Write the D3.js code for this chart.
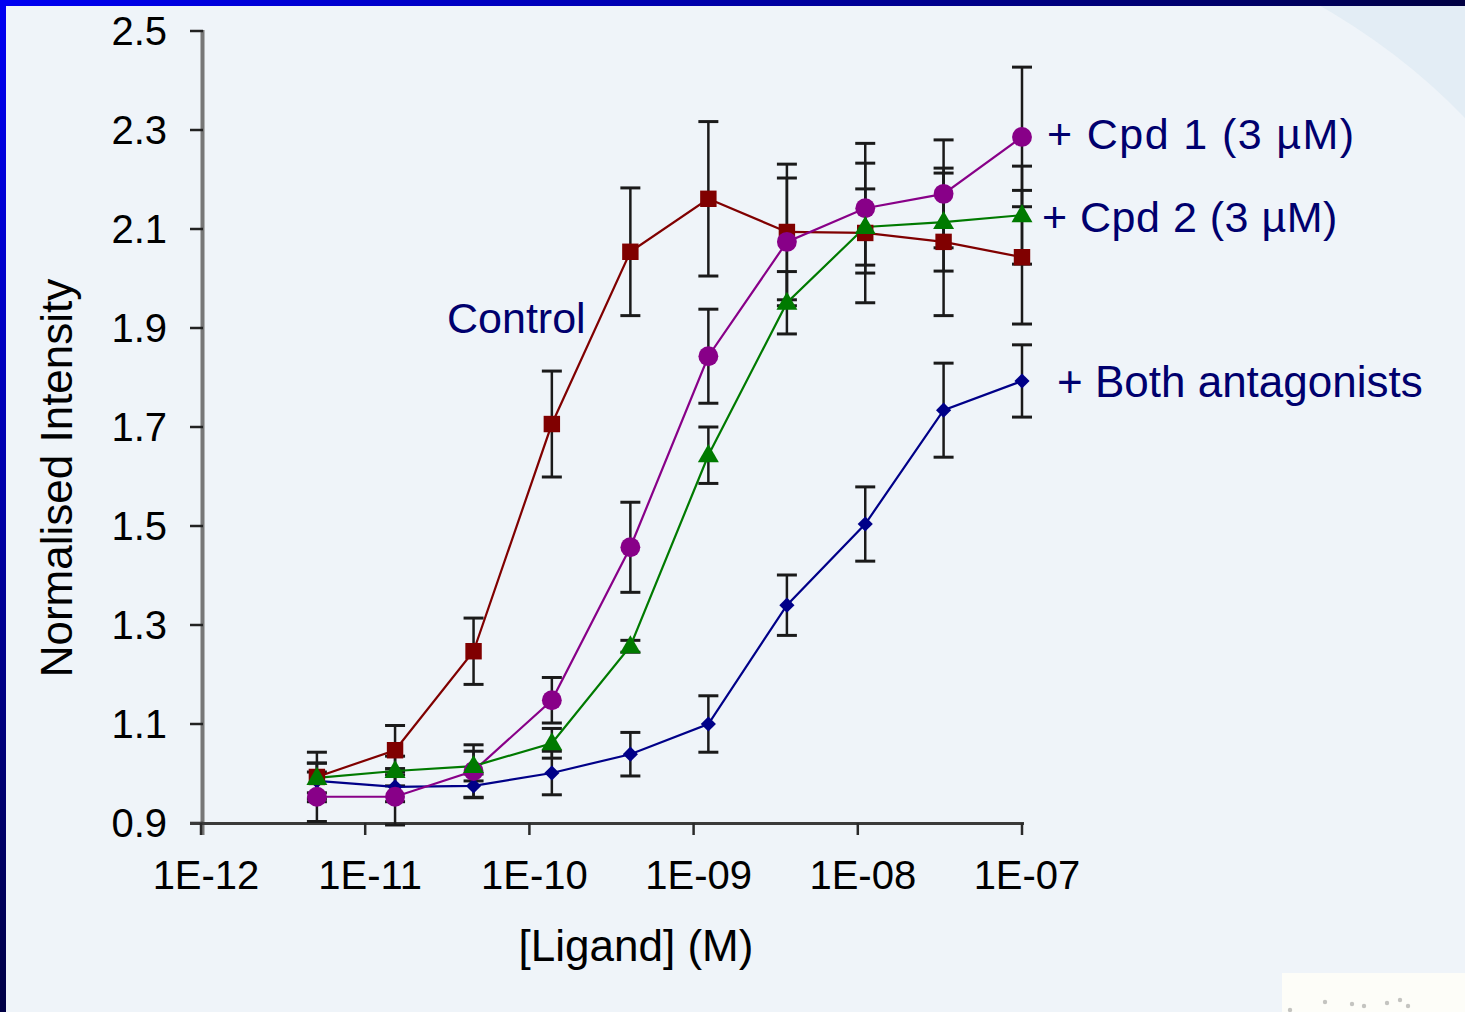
<!DOCTYPE html>
<html>
<head>
<meta charset="utf-8">
<script src="https://cdn.jsdelivr.net/npm/d3@7"></script>
<style>
  html, body { margin: 0; padding: 0; background: #eff4f9; }
  svg { display: block; }
  text { font-family: "Liberation Sans", Arial, sans-serif; }
</style>
</head>
<body>
<svg id="chart" width="1465" height="1012"></svg>
<script>
// Ligand concentrations (M), threefold dilution series
const doses = [5.08e-12, 1.52e-11, 4.57e-11, 1.37e-10, 4.12e-10, 1.23e-9, 3.70e-9, 1.11e-8, 3.33e-8, 1.0e-7];

// Normalised intensity (mean) and error for each condition
const controlMean = [0.993, 1.047, 1.247, 1.706, 2.054, 2.161, 2.094, 2.092, 2.074, 2.043];
const controlErr  = [0.050, 0.050, 0.067, 0.107, 0.129, 0.156, 0.137, 0.141, 0.149, 0.135];

const cpd1Mean = [0.953, 0.953, 1.005, 1.148, 1.457, 1.843, 2.074, 2.142, 2.171, 2.286];
const cpd1Err  = [0.050, 0.057, 0.053, 0.046, 0.091, 0.095, 0.129, 0.131, 0.109, 0.141];

const cpd2Mean = [0.991, 1.005, 1.015, 1.061, 1.257, 1.643, 1.951, 2.104, 2.114, 2.128];
const cpd2Err  = [0.030, 0.030, 0.030, 0.030, 0.012, 0.057, 0.063, 0.077, 0.099, 0.099];

const bothMean = [0.985, 0.973, 0.975, 1.001, 1.039, 1.100, 1.340, 1.504, 1.734, 1.793];
const bothErr  = [0.036, 0.030, 0.024, 0.044, 0.044, 0.057, 0.061, 0.075, 0.095, 0.073];

// Axis ticks
const xTicks = [1e-12, 1e-11, 1e-10, 1e-9, 1e-8, 1e-7];
const xTickLabels = ["1E-12", "1E-11", "1E-10", "1E-09", "1E-08", "1E-07"];
const yTicks = [0.9, 1.1, 1.3, 1.5, 1.7, 1.9, 2.1, 2.3, 2.5];

// Series labels placed beside the curves
const seriesLabels = ["Control", "+  Cpd 1 (3 \u00b5M)", "+ Cpd 2 (3 \u00b5M)", "+ Both antagonists"];

const svg = d3.select("#chart");
const W = 1465, H = 1012;

// ---- slide background and frame ----
const defs = svg.append("defs");
const gTop = defs.append("linearGradient").attr("id", "frameTop").attr("x1", 0).attr("x2", 1).attr("y1", 0).attr("y2", 0);
gTop.append("stop").attr("offset", "0%").attr("stop-color", "#0000f2");
gTop.append("stop").attr("offset", "45%").attr("stop-color", "#0000b0");
gTop.append("stop").attr("offset", "85%").attr("stop-color", "#000068");
gTop.append("stop").attr("offset", "100%").attr("stop-color", "#000042");
const gLeft = defs.append("linearGradient").attr("id", "frameLeft").attr("x1", 0).attr("x2", 0).attr("y1", 0).attr("y2", 1);
gLeft.append("stop").attr("offset", "0%").attr("stop-color", "#0000f2");
gLeft.append("stop").attr("offset", "50%").attr("stop-color", "#0000a8");
gLeft.append("stop").attr("offset", "100%").attr("stop-color", "#000045");

svg.append("rect").attr("width", W).attr("height", H).attr("fill", "#eff4f9");
svg.append("path")
  .attr("d", "M1310,0 Q1400,50 1465,118 L1465,0 Z")
  .attr("fill", "#e3edf5");
svg.append("rect").attr("x", 0).attr("y", 0).attr("width", W).attr("height", 6).attr("fill", "url(#frameTop)");
svg.append("rect").attr("x", 0).attr("y", 0).attr("width", 6).attr("height", H).attr("fill", "url(#frameLeft)");

// corner picture fragment
const frag = svg.append("g");
frag.append("rect").attr("x", 1282).attr("y", 973).attr("width", 183).attr("height", 39).attr("fill", "#fdfdf8");
[[1325, 1002], [1352, 1004], [1364, 1006], [1387, 1003], [1400, 1000], [1408, 1006], [1290, 1010]].forEach(p => {
  frag.append("circle").attr("cx", p[0]).attr("cy", p[1]).attr("r", 2.2).attr("fill", "#c4c4c0");
});

// ---- scales ----
const x = d3.scaleLog().domain([1e-12, 1e-7]).range([201, 1022]);
const y = d3.scaleLinear().domain([0.9, 2.5]).range([823, 31]);

// ---- axes ----
const yAxis = svg.append("g");
yAxis.append("line").attr("x1", 202.5).attr("x2", 202.5).attr("y1", 30).attr("y2", 835)
  .attr("stroke", "#777").attr("stroke-width", 4);
yAxis.selectAll("line.tick").data(yTicks).join("line").attr("class", "tick")
  .attr("x1", 190).attr("x2", 203).attr("y1", d => y(d)).attr("y2", d => y(d))
  .attr("stroke", "#222").attr("stroke-width", 2.5);
yAxis.selectAll("text").data(yTicks).join("text")
  .attr("x", 167).attr("y", d => y(d) + 14)
  .attr("text-anchor", "end").attr("font-size", 40).attr("fill", "#000")
  .text(d => d.toFixed(1));

const xAxis = svg.append("g");
xAxis.append("line").attr("x1", 190).attr("x2", 1024).attr("y1", 823.5).attr("y2", 823.5)
  .attr("stroke", "#3a3a3a").attr("stroke-width", 3);
xAxis.selectAll("line.tick").data(xTicks).join("line").attr("class", "tick")
  .attr("x1", d => x(d)).attr("x2", d => x(d)).attr("y1", 823).attr("y2", 835)
  .attr("stroke", "#2a2a2a").attr("stroke-width", 2.5);
xAxis.selectAll("text").data(xTicks).join("text")
  .attr("x", d => x(d) + 5).attr("y", 889)
  .attr("text-anchor", "middle").attr("font-size", 40).attr("fill", "#000")
  .text((d, i) => xTickLabels[i]);

svg.append("text").attr("x", 636).attr("y", 961).attr("text-anchor", "middle")
  .attr("font-size", 44).attr("fill", "#000").text("[Ligand] (M)");
svg.append("text").attr("transform", "translate(72,478) rotate(-90)").attr("text-anchor", "middle")
  .attr("font-size", 44).attr("fill", "#000").text("Normalised Intensity");

// ---- data ----
// diamonds are squares turned by 45 degrees
const series = [
  { name: "both", mean: bothMean, err: bothErr, color: "#000088", shape: d3.symbolSquare, size: 115, rotate: 45 },
  { name: "control", mean: controlMean, err: controlErr, color: "#800000", shape: d3.symbolSquare, size: 270, rotate: 0 },
  { name: "cpd1", mean: cpd1Mean, err: cpd1Err, color: "#880088", shape: d3.symbolCircle, size: 310, rotate: 0 },
  { name: "cpd2", mean: cpd2Mean, err: cpd2Err, color: "#007a00", shape: d3.symbolTriangle, size: 190, rotate: 0 }
];

const pts = s => doses.map((d, i) => ({ d, v: s.mean[i], e: s.err[i] }));

// error bars
const errG = svg.append("g");
series.forEach(s => {
  const g = errG.append("g");
  const data = pts(s);
  g.selectAll("line.v").data(data).join("line").attr("class", "v")
    .attr("x1", p => x(p.d)).attr("x2", p => x(p.d))
    .attr("y1", p => y(p.v - p.e)).attr("y2", p => y(p.v + p.e))
    .attr("stroke", "#1a1a1a").attr("stroke-width", 2.5);
  ["hi", "lo"].forEach(k => {
    g.selectAll("line." + k).data(data).join("line").attr("class", k)
      .attr("x1", p => x(p.d) - 10).attr("x2", p => x(p.d) + 10)
      .attr("y1", p => y(k === "hi" ? p.v + p.e : p.v - p.e))
      .attr("y2", p => y(k === "hi" ? p.v + p.e : p.v - p.e))
      .attr("stroke", "#1a1a1a").attr("stroke-width", 3);
  });
});

// lines and markers
const line = d3.line().x(p => x(p.d)).y(p => y(p.v));
series.forEach(s => {
  const data = pts(s);
  svg.append("path").datum(data).attr("d", line)
    .attr("fill", "none").attr("stroke", s.color).attr("stroke-width", 2.2);
});
series.forEach(s => {
  const data = pts(s);
  const sym = d3.symbol().type(s.shape).size(s.size);
  svg.append("g").selectAll("path").data(data).join("path")
    .attr("transform", p => `translate(${x(p.d)},${y(p.v) + (s.shape === d3.symbolTriangle ? 1 : 0)}) rotate(${s.rotate})`)
    .attr("d", sym).attr("fill", s.color);
});

// ---- series labels ----
const lab = svg.append("g").attr("fill", "#00006e").style("white-space", "pre");
lab.append("text").attr("x", 447).attr("y", 333).attr("font-size", 43).text(seriesLabels[0]);
lab.append("text").attr("x", 1047).attr("y", 149).attr("font-size", 43).attr("letter-spacing", 1.4).text(seriesLabels[1]);
lab.append("text").attr("x", 1042).attr("y", 232).attr("font-size", 43).attr("letter-spacing", 0.5).text(seriesLabels[2]);
lab.append("text").attr("x", 1057).attr("y", 397).attr("font-size", 44).text(seriesLabels[3]);
</script>
</body>
</html>
